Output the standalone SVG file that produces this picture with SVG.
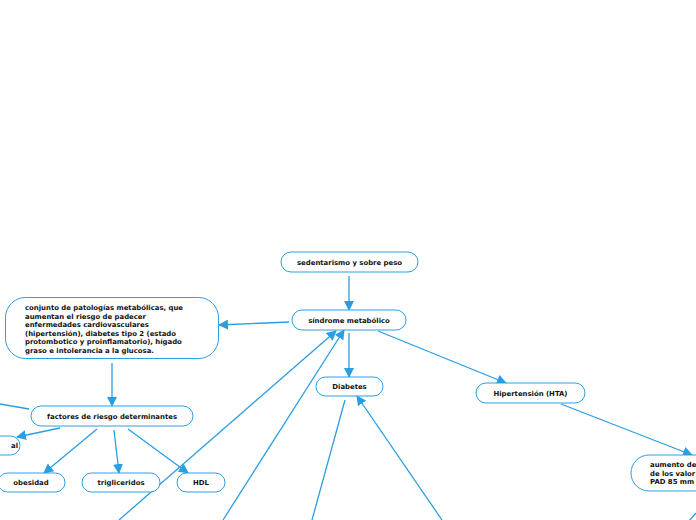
<svg xmlns="http://www.w3.org/2000/svg" width="696" height="520" viewBox="0 0 696 520">
<defs>
<marker id="ah" viewBox="0 0 10 10" refX="9" refY="5" markerWidth="10" markerHeight="10" markerUnits="userSpaceOnUse" orient="auto">
<path d="M0,0 L10,5 L0,10 z" fill="#2a9ee3"/>
</marker>
</defs>
<style>
.n{fill:#fff;stroke:#2a9ee3;stroke-width:1}
.t{font-family:"DejaVu Sans",Verdana,sans-serif;font-weight:bold;font-size:6.9px;fill:#111}
.c{text-anchor:middle}
.e line{stroke:#2a9ee3;stroke-width:1.3;fill:none}
.a{marker-end:url(#ah)}
</style>
<rect width="696" height="520" fill="#fff"/>
<g class="e">
<line class="a" x1="349" y1="276" x2="349" y2="310"/>
<line class="a" x1="289" y1="322" x2="219" y2="325"/>
<line class="a" x1="112" y1="363" x2="112" y2="406"/>
<line x1="29" y1="409" x2="0" y2="404"/>
<line class="a" x1="60" y1="428" x2="17" y2="437"/>
<line class="a" x1="97" y1="429" x2="44" y2="473"/>
<line class="a" x1="114" y1="430" x2="119" y2="473"/>
<line class="a" x1="128" y1="429" x2="188" y2="473"/>
<line class="a" x1="119" y1="520" x2="336" y2="331"/>
<line class="a" x1="223" y1="520" x2="344" y2="330"/>
<line class="a" x1="349" y1="333" x2="349" y2="377"/>
<line x1="345" y1="400" x2="312" y2="520"/>
<line class="a" x1="442" y1="520" x2="357" y2="396"/>
<line class="a" x1="378" y1="331" x2="506" y2="383"/>
<line class="a" x1="561" y1="404" x2="692" y2="455"/>
<line x1="689" y1="521" x2="696" y2="513"/>
</g>
<g id="sedentarismo">
<rect class="n" x="281" y="252" width="137" height="20" rx="10"/>
<text class="t c" x="349.5" y="264.5">sedentarismo y sobre peso</text>
</g>
<g id="sindrome">
<rect class="n" x="292" y="310" width="114" height="20" rx="10"/>
<text class="t c" x="349" y="322.5">síndrome metabólico</text>
</g>
<g id="conjunto">
<rect class="n" x="5.5" y="297.5" width="213" height="61" rx="20"/>
<text class="t" x="25" y="310">conjunto de patologías metabólicas, que</text>
<text class="t" x="25" y="318.5">aumentan el riesgo de padecer</text>
<text class="t" x="25" y="327">enfermedades cardiovasculares</text>
<text class="t" x="25" y="335.5">(hipertensión), diabetes tipo 2 (estado</text>
<text class="t" x="25" y="344">protombotico y proinflamatorio), hígado</text>
<text class="t" x="25" y="352.5">graso e intolerancia a la glucosa.</text>
</g>
<g id="factores">
<rect class="n" x="31" y="406" width="162" height="20" rx="10"/>
<text class="t c" x="112" y="418.5">factores de riesgo determinantes</text>
</g>
<g id="al">
<rect class="n" x="-60" y="436" width="80" height="19" rx="9.5"/>
<text class="t" x="18" y="448" text-anchor="end">al</text>
</g>
<g id="obesidad">
<rect class="n" x="-2" y="473" width="67" height="19" rx="9.5"/>
<text class="t c" x="31" y="485">obesidad</text>
</g>
<g id="trigliceridos">
<rect class="n" x="82" y="473" width="78" height="19" rx="9.5"/>
<text class="t c" x="121" y="485">trigliceridos</text>
</g>
<g id="hdl">
<rect class="n" x="177" y="473" width="48" height="19" rx="9.5"/>
<text class="t c" x="201" y="485">HDL</text>
</g>
<g id="diabetes">
<rect class="n" x="316" y="377" width="67" height="19" rx="9.5"/>
<text class="t c" x="349.5" y="389">Diabetes</text>
</g>
<g id="hta">
<rect class="n" x="476" y="383" width="109" height="20" rx="10"/>
<text class="t c" x="530.5" y="395.5">Hipertensión (HTA)</text>
</g>
<g id="aumento">
<rect class="n" x="631" y="455" width="120" height="36" rx="18"/>
<text class="t" x="650" y="467">aumento de</text>
<text class="t" x="650" y="475.5">de los valor</text>
<text class="t" x="650" y="484">PAD 85 mm</text>
</g>
</svg>
